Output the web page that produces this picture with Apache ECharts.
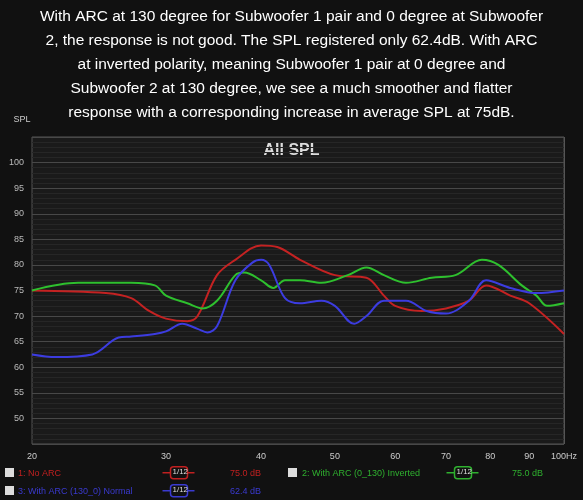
<!DOCTYPE html>
<html><head><meta charset="utf-8">
<script src="https://cdn.jsdelivr.net/npm/echarts@6/dist/echarts.min.js"></script>
<style>body{margin:0;background:#111}#c{width:583px;height:500px}</style>
</head><body><div id="c"></div>
<script>
var myChart = echarts.init(document.getElementById('c'));

var noArc = [[20,75],[25,74.5],[27,73.5],[28.5,71],[30,69.5],[32,69],[33,70],[35,78],[37,81],[40,83.8],[42,83.5],[45,81],[50,78],[55,77.5],[58,74],[60,72],[65,71],[70,71.5],[75,73],[79,76],[85,74],[90,72.5],[100,66.5]];
var inverted = [[20,75],[23,76.5],[27,76.5],[29,76],[30,74],[32,72.5],[33.5,71.5],[35,73],[37,78],[38,78.5],[40,77],[41.5,75.5],[43,77],[45,77],[48,76.5],[52,78],[55,79.5],[58,78],[62,76.5],[67,77.5],[72,78],[78,81],[82,80],[88,76],[92,74],[95,72],[100,72.5]];
var normal = [[20,62.5],[21.5,62],[24,62.5],[26,65.8],[27,66],[29,66.5],[30,67],[31.5,68.5],[33,67.5],[34,66.8],[35,68],[37,77],[39,80.5],[40,81],[41,80],[43,73.5],[45,72.5],[48,73],[50,72],[53,68.5],[55,70],[58,73],[62,73],[66,71],[70,70.5],[75,73],[79,77],[85,75.5],[92,74.5],[100,75]];
var xTicks = [20,30,40,50,60,70,80,90,100];

var title = 'With ARC at 130 degree for Subwoofer 1 pair and 0 degree at Subwoofer\n2, the response is not good. The SPL registered only 62.4dB. With ARC\nat inverted polarity, meaning Subwoofer 1 pair at 0 degree and\nSubwoofer 2 at 130 degree, we see a much smoother and flatter\nresponse with a corresponding increase in average SPL at 75dB.';

function line(name, data, color) {
    return { name: name, type: 'line', data: data, smooth: 0.35, symbol: 'none',
        lineStyle: { color: color, width: 2 } };
}
function leg(x, y, text, color) {
    return { type: 'text', left: x, top: y, style: { text: text, fill: color, fontSize: 9, fontFamily: 'Liberation Sans' } };
}
function box(x, y, color) {
    return { type: 'group', left: x, top: y, children: [
        { type: 'line', shape: { x1: 0, y1: 6, x2: 32, y2: 6 }, style: { stroke: color, lineWidth: 1.5 } },
        { type: 'rect', shape: { x: 8, y: 0, width: 17, height: 12, r: 3 }, style: { fill: '#111', stroke: color, lineWidth: 1.5 } },
        { type: 'text', x: 10, y: 1, style: { text: '1/12', fill: '#ddd', fontSize: 8, fontFamily: 'Liberation Sans' } }
    ] };
}

var option = {
    backgroundColor: '#111111',
    title: { text: title, left: 'center', top: 0,
        textStyle: { color: '#fff', fontSize: 15.5, fontWeight: 'normal', lineHeight: 24, fontFamily: 'Liberation Sans' } },
    grid: { left: 32, right: 19, top: 137, bottom: 56, show: true, borderColor: '#555', backgroundColor: '#1a1a1a' },
    xAxis: {
        type: 'log', min: 20, max: 100, logBase: 10,
        axisLine: { show: false }, axisTick: { show: false },
        axisLabel: { color: '#ccc', fontSize: 9, customValues: xTicks,
            formatter: function (v) { return Math.round(v) == 100 ? '100Hz' : Math.round(v); } },
        splitLine: { show: true, lineStyle: { color: '#555' }, showMinLine: false },
        minorTick: { show: false }
    },
    yAxis: {
        type: 'value', min: 45, max: 105, interval: 5, name: 'SPL',
        nameTextStyle: { color: '#ccc', fontSize: 9, padding: [0, 20, -2, 0] },
        axisLine: { show: false }, axisTick: { show: false },
        axisLabel: { color: '#bbb', fontSize: 9, formatter: function (v) { return (v % 5 == 0 && v >= 50 && v <= 100) ? v : ''; } },
        splitLine: { lineStyle: { color: '#484848' } },
        minorTick: { show: false, splitNumber: 5 },
        minorSplitLine: { show: true, lineStyle: { color: '#262626' } }
    },
    graphic: [
        { type: 'text', left: 'center', top: 143, style: { text: 'All SPL', fill: '#ddd', fontSize: 16, fontWeight: 'bold', fontFamily: 'Liberation Sans' } },
        { type: 'rect', left: 5, top: 468, shape: { width: 9, height: 9 }, style: { fill: '#ddd' } },
        leg(18, 469, '1: No ARC', '#c02020'),
        { type: 'rect', left: 5, top: 486, shape: { width: 9, height: 9 }, style: { fill: '#ddd' } },
        leg(18, 487, '3: With ARC (130_0) Normal', '#3a3ad0'),
        { type: 'rect', left: 288, top: 468, shape: { width: 9, height: 9 }, style: { fill: '#ddd' } },
        leg(302, 469, '2: With ARC (0_130) Inverted', '#2fb02f'),
        box(160, 466, '#c02020'),
        box(160, 484, '#3a3ad0'),
        box(444, 466, '#2fb02f'),
        leg(230, 469, '75.0 dB', '#c02020'),
        leg(230, 487, '62.4 dB', '#3a3ad0'),
        leg(512, 469, '75.0 dB', '#2fb02f')
    ],
    series: [
        line('1: No ARC', noArc, '#c42222'),
        line('2: With ARC (0_130) Inverted', inverted, '#2ec02e'),
        line('3: With ARC (130_0) Normal', normal, '#3c3ce0')
    ]
};
myChart.setOption(option);
</script></body></html>
